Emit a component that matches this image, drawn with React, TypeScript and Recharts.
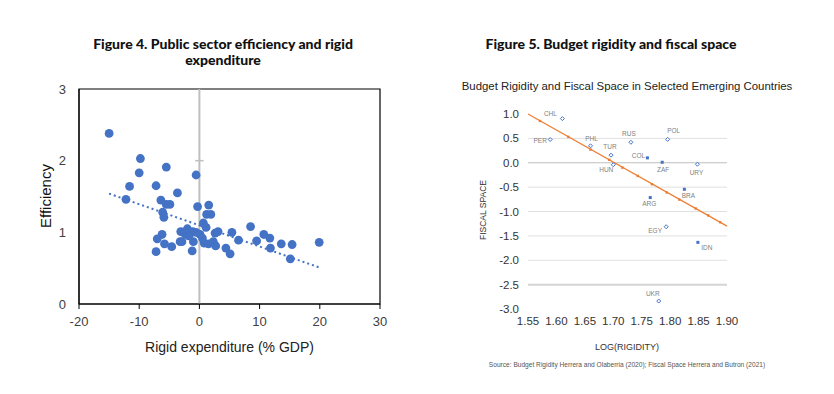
import { ScatterChart, Scatter, XAxis, YAxis, ReferenceLine, ReferenceArea } from "recharts";

const BLUE = "#4472C4";
const ORANGE = "#ED7D31";
const LABEL_FONT = "'Liberation Sans', Arial, sans-serif";

// Figure 4: rigid expenditure (% GDP) vs efficiency
const RIGID = [
  -15.0, -9.8, -10.0, -5.5, -0.55, -11.6, -7.2, -3.65, -12.2, -6.4, -5.5, -4.9, -0.3, 1.55,
  -6.1, -5.9, 1.2, 1.9, 0.66, 1.1, 8.5, -3.1, -2.0, -1.1, -2.4, -1.55, -0.55, 0.1, 2.6, 3.1,
  5.4, -6.2, -7.0, 10.7, 11.7, 6.5, 9.5, -3.2, -1.0, 0.8, 1.5, 2.3, 2.7, -5.8, -4.6, 13.6,
  15.4, 19.9, 11.8, 4.4, 5.1, -7.2, -1.2, 15.1, -2.9, 0.5, -1.8,
];
const EFFICIENCY = [
  2.38, 2.03, 1.83, 1.91, 1.80, 1.64, 1.65, 1.55, 1.46, 1.45, 1.39, 1.39, 1.36, 1.38,
  1.28, 1.21, 1.25, 1.25, 1.13, 1.07, 1.08, 1.01, 1.05, 1.01, 0.98, 0.98, 1.0, 0.97, 0.99, 1.01,
  1.0, 0.97, 0.91, 0.97, 0.92, 0.89, 0.88, 0.87, 0.87, 0.85, 0.84, 0.87, 0.81, 0.84, 0.80, 0.84,
  0.83, 0.86, 0.78, 0.78, 0.70, 0.73, 0.74, 0.63, 0.87, 0.92, 0.95,
];
const TREND4_X = [-15, 19.9];
const TREND4_Y = [1.54, 0.51];
const X4_TICKS = [-20, -10, 0, 10, 20, 30];
const Y4_TICKS = [0, 1, 2, 3];
const AXIS_CROSS_TICKS = [1, 2];

// Figure 5: budget rigidity vs fiscal space
const COUNTRIES = ["CHL", "PER", "PHL", "TUR", "HUN", "RUS", "COL", "POL", "ZAF", "URY", "BRA", "ARG", "EGY", "IDN", "UKR"];
const LOG_RIGIDITY = [1.6105, 1.589, 1.66, 1.696, 1.70, 1.731, 1.76, 1.7956, 1.786, 1.848, 1.825, 1.765, 1.793, 1.8488, 1.78];
const FISCAL_SPACE = [0.905, 0.476, 0.347, 0.156, -0.04, 0.42, 0.10, 0.48, 0.01, -0.03, -0.544, -0.714, -1.313, -1.633, -2.837];
const TREND5_X = [1.55, 1.90];
const TREND5_Y = [1.0, -1.30];
const TREND5_MARK_X = [1.571, 1.621, 1.66, 1.693, 1.716, 1.743, 1.768, 1.794, 1.816, 1.845, 1.867, 1.888];
const TREND5_MARK_Y = [0.857, 0.53, 0.27, 0.06, -0.10, -0.27, -0.44, -0.61, -0.755, -0.94, -1.08, -1.22];
const X5_TICKS = [1.55, 1.6, 1.65, 1.7, 1.75, 1.8, 1.85, 1.9];
const Y5_TICKS = [1.0, 0.5, 0.0, -0.5, -1.0, -1.5, -2.0, -2.5, -3.0];
const GRID5 = [0.5, 0.0, -0.5, -1.0, -1.5, -2.0, -2.5];

// label placement (px from marker) and marker style, per country
const LABEL_OFFSET: Record<string, [number, number]> = {
  CHL: [-12, -5], PER: [-10, 1], PHL: [1, -7], TUR: [-1, -9], HUN: [-7, 5],
  RUS: [-2, -9], COL: [-9, -2], POL: [6, -9], ZAF: [1, 7], URY: [-1, 8],
  BRA: [4, 6], ARG: [-1, 6], EGY: [-11, 4], IDN: [9, 5], UKR: [-6, -8],
};
const FILLED = ["COL", "ZAF", "BRA", "ARG", "IDN"];

const fig4Points = RIGID.map((x, i) => ({ x, y: EFFICIENCY[i] }));
const fig4Trend = TREND4_X.map((x, i) => ({ x, y: TREND4_Y[i] }));
const fig5Points = COUNTRIES.map((name, i) => ({ name, x: LOG_RIGIDITY[i], y: FISCAL_SPACE[i] }));
const fig5Trend = TREND5_X.map((x, i) => ({ x, y: TREND5_Y[i] }));
const fig5Marks = TREND5_MARK_X.map((x, i) => ({ x, y: TREND5_MARK_Y[i] }));

const noShape = () => <g />;

function CountryMarker(props: any) {
  const { cx, cy, payload } = props;
  const [dx, dy] = LABEL_OFFSET[payload.name] ?? [0, -8];
  const filled = FILLED.includes(payload.name);
  return (
    <g>
      {filled ? (
        <rect x={cx - 1.5} y={cy - 1.5} width={3} height={3} fill={BLUE} />
      ) : (
        <path d={`M${cx},${cy - 2} L${cx + 2},${cy} L${cx},${cy + 2} L${cx - 2},${cy} Z`} fill="#fff" stroke={BLUE} strokeWidth={1} />
      )}
      <text x={cx + dx} y={cy + dy} textAnchor="middle" dominantBaseline="central" fontSize={6.5} fill="#7f7f7f" fontFamily={LABEL_FONT}>
        {payload.name}
      </text>
    </g>
  );
}

const abs = (left: number, top: number, extra: React.CSSProperties = {}): React.CSSProperties => ({
  position: "absolute", left, top, ...extra,
});

export default function App() {
  const titleStyle: React.CSSProperties = {
    fontFamily: "Lato, sans-serif", fontWeight: 900, fontSize: 14, lineHeight: "16px",
    color: "#111", textAlign: "center", whiteSpace: "nowrap",
  };
  return (
    <div style={{ position: "absolute", left: 0, top: 0, width: 834, height: 394, background: "#fff", overflow: "hidden" }}>
      {/* Figure 4 */}
      <div style={abs(73, 36, { ...titleStyle, width: 300 })}>
        Figure 4. Public sector efficiency and rigid<br />expenditure
      </div>
      <div style={abs(0, 0)}>
        <ScatterChart width={420} height={394} margin={{ top: 89, right: 40, bottom: 60, left: 49 }}>
          <XAxis
            type="number" dataKey="x" domain={[-20, 30]} ticks={X4_TICKS} interval={0}
            axisLine={{ stroke: "#000" }} tickLine={{ stroke: "#000" }} tickSize={5} tickMargin={8} height={30}
            tick={{ fontSize: 13, fill: "#404040", fontFamily: LABEL_FONT }}
          />
          <YAxis
            type="number" dataKey="y" domain={[0, 3]} ticks={Y4_TICKS} interval={0}
            axisLine={{ stroke: "#000" }} tickLine={false} tickMargin={7} width={30}
            tick={{ fontSize: 13, fill: "#404040", fontFamily: LABEL_FONT }}
          />
          <ReferenceArea x1={-20} x2={30} y1={0} y2={3} fill="none" stroke="#000" strokeWidth={1.2} />
          <ReferenceLine x={0} stroke="#BFBFBF" strokeWidth={2} />
          {AXIS_CROSS_TICKS.map((t) => (
            <ReferenceLine key={t} segment={[{ x: -0.7, y: t }, { x: 0.7, y: t }]} stroke="#BFBFBF" strokeWidth={1.5} />
          ))}
          <Scatter data={fig4Trend} line={{ stroke: BLUE, strokeWidth: 2, strokeDasharray: "2 3" }} shape={noShape} isAnimationActive={false} />
          <Scatter
            data={fig4Points} isAnimationActive={false}
            shape={(p: any) => <circle cx={p.cx} cy={p.cy} r={4.4} fill={BLUE} />}
          />
        </ScatterChart>
      </div>
      <div style={abs(45, 196, { transform: "translate(-50%, -50%) rotate(-90deg)", fontFamily: LABEL_FONT, fontSize: 15, color: "#111", whiteSpace: "nowrap" })}>
        Efficiency
      </div>
      <div style={abs(79, 339, { width: 301, textAlign: "center", fontFamily: LABEL_FONT, fontSize: 14, color: "#222", whiteSpace: "nowrap" })}>
        Rigid expenditure (% GDP)
      </div>

      {/* Figure 5 */}
      <div style={abs(461, 36, { ...titleStyle, width: 300 })}>
        Figure 5. Budget rigidity and fiscal space
      </div>
      <div style={abs(427, 80, { width: 400, textAlign: "center", fontFamily: LABEL_FONT, fontSize: 11.4, color: "#222", whiteSpace: "nowrap" })}>
        Budget Rigidity and Fiscal Space in Selected Emerging Countries
      </div>
      <div style={abs(420, 0)}>
        <ScatterChart width={414} height={394} margin={{ top: 114, right: 107, bottom: 60, left: 68 }}>
          <XAxis
            type="number" dataKey="x" domain={[1.55, 1.9]} ticks={X5_TICKS} interval={0}
            axisLine={false} tickLine={false} tickMargin={2} height={25}
            tickFormatter={(v: number) => v.toFixed(2)}
            tick={{ fontSize: 11.5, fill: "#333", fontFamily: LABEL_FONT }}
          />
          <YAxis
            type="number" dataKey="y" domain={[-3, 1]} ticks={Y5_TICKS} interval={0}
            axisLine={false} tickLine={false} tickMargin={3} width={40}
            tickFormatter={(v: number) => v.toFixed(1)}
            tick={{ fontSize: 11.5, fill: "#333", fontFamily: LABEL_FONT }}
          />
          {GRID5.map((g) => (
            <ReferenceLine
              key={g} y={g}
              stroke={g === 0 ? "#BFBFBF" : g === -2.5 ? "#D4D4D4" : "#E0E0E0"}
              strokeWidth={g === -2.5 ? 2 : 1}
            />
          ))}
          <Scatter data={fig5Trend} line={{ stroke: ORANGE, strokeWidth: 1.2 }} shape={noShape} isAnimationActive={false} />
          <Scatter
            data={fig5Marks} isAnimationActive={false}
            shape={(p: any) => <rect x={p.cx - 1.2} y={p.cy - 1.2} width={2.4} height={2.4} fill={ORANGE} />}
          />
          <Scatter data={fig5Points} shape={CountryMarker} isAnimationActive={false} />
        </ScatterChart>
      </div>
      <div style={abs(483, 210, { transform: "translate(-50%, -50%) rotate(-90deg)", fontFamily: LABEL_FONT, fontSize: 8.5, color: "#333", whiteSpace: "nowrap" })}>
        FISCAL SPACE
      </div>
      <div style={abs(527, 342, { width: 200, textAlign: "center", fontFamily: LABEL_FONT, fontSize: 9, color: "#333", whiteSpace: "nowrap" })}>
        LOG(RIGIDITY)
      </div>
      <div style={abs(467, 361, { width: 320, textAlign: "center", fontFamily: LABEL_FONT, fontSize: 6.6, color: "#555", whiteSpace: "nowrap" })}>
        Source: Budget Rigidity Herrera and Olaberria (2020); Fiscal Space Herrera and Butron (2021)
      </div>
    </div>
  );
}
